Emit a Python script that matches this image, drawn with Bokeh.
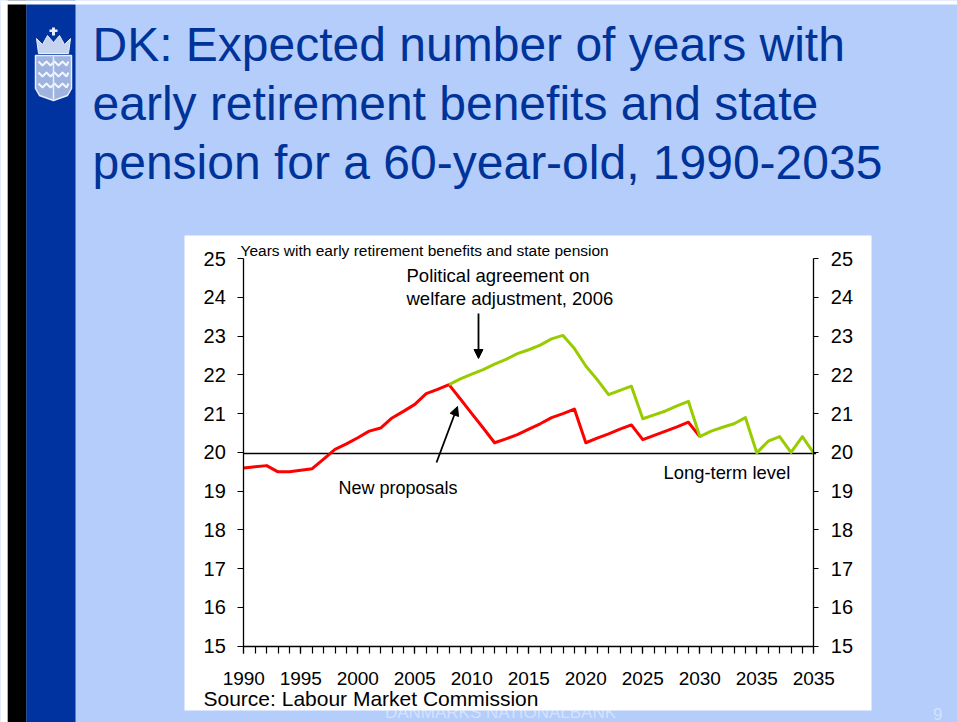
from bokeh.plotting import figure
from bokeh.models import Range1d, LinearAxis, FixedTicker, Arrow, NormalHead
from bokeh.core.properties import value
from bokeh.embed import file_html
from bokeh.resources import INLINE

# ---------------- data ----------------
years_red = list(range(1990, 2031))
red_values = [19.60, 19.63, 19.66, 19.50, 19.50, 19.54, 19.58, 19.83, 20.08, 20.22,
              20.38, 20.55, 20.63, 20.89, 21.06, 21.24, 21.52, 21.63, 21.75, 21.38,
              21.00, 20.63, 20.25, 20.35, 20.46, 20.60, 20.74, 20.90, 21.00, 21.12,
              20.25, 20.37, 20.48, 20.60, 20.71, 20.33, 20.44, 20.55, 20.66, 20.78,
              20.41]
years_green = list(range(2008, 2041))
green_values = [21.75, 21.90, 22.02, 22.14, 22.28, 22.40, 22.55, 22.65, 22.77, 22.93,
                23.02, 22.68, 22.23, 21.88, 21.49, 21.60, 21.71, 20.87, 20.97, 21.07,
                21.20, 21.32, 20.41, 20.55, 20.65, 20.74, 20.90, 19.99, 20.29, 20.41,
                20.00, 20.41, 19.98]
long_term_level = 19.97
y_ticks = list(range(15, 26))
x_ticks = [1990, 1995, 2000, 2005, 2010, 2015, 2020, 2025, 2030, 2035, 2040]
x_tick_labels = ["1990", "1995", "2000", "2005", "2010", "2015", "2020", "2025",
                 "2030", "2035", "2035"]
x_minor_ticks = list(range(1990, 2041))

title_lines = ["DK: Expected number of years with",
               "early retirement benefits and state",
               "pension for a 60-year-old, 1990-2035"]

# ---------------- page geometry (page px -> chart data) ----------------
W, H = 957, 722
PX_PER_YEAR = 11.4
PX_PER_UNIT = 38.75
def X(px):
    return 1990 + (px - 243.3) / PX_PER_YEAR
def Y(py):
    return 15 + (645.7 - py) / PX_PER_UNIT

FONT = value("Liberation Sans")
SLIDE_BG = "#b4cdfa"
DARK_BLUE = "#0033a0"
TITLE_BLUE = "#003399"

p = figure(width=W, height=H,
           x_range=Range1d(X(0), X(W)), y_range=Range1d(Y(H), Y(0)),
           x_axis_location=None, y_axis_location=None,
           toolbar_location=None, output_backend="svg", min_border=0,
           background_fill_color=SLIDE_BG, border_fill_color=SLIDE_BG,
           outline_line_color=None)
p.grid.visible = False

# footer (partly hidden beneath the chart box, as in the slide)
p.text(x=[X(500)], y=[Y(712)], text=["DANMARKS NATIONALBANK"], text_font=FONT,
       text_font_size="17px", text_color="#d4e2ff", text_align="center",
       text_baseline="alphabetic")
p.text(x=[X(942)], y=[Y(713)], text=["9"], text_font=FONT,
       text_font_size="17px", text_color="#d4e2ff", text_align="right",
       text_baseline="alphabetic")

# left bands
p.quad(left=[X(7)], right=[X(26)], top=[Y(0)], bottom=[Y(H)],
       fill_color="black", line_color=None)
p.quad(left=[X(26)], right=[X(75)], top=[Y(0)], bottom=[Y(H)],
       fill_color=DARK_BLUE, line_color=None)
# thin white page edge (top / left) as in the reference
p.quad(left=[X(0)], right=[X(W)], top=[Y(0)], bottom=[Y(4)],
       fill_color="white", line_color=None)
p.quad(left=[X(0)], right=[X(7)], top=[Y(0)], bottom=[Y(H)],
       fill_color="white", line_color=None)

# logo (crown + shield)
crown = [(38, 53), (68, 53), (70, 38), (64, 44), (59, 35), (53, 42), (47, 35), (42, 44), (36, 38)]
p.patch(x=[X(a) for a, b in crown], y=[Y(b) for a, b in crown],
        fill_color="#c6d3ee", line_color="#e6eeff", line_width=1)
p.quad(left=[X(51.5)], right=[X(54.5)], top=[Y(27)], bottom=[Y(35)],
       fill_color="#e6eeff", line_color=None)
p.quad(left=[X(49)], right=[X(57)], top=[Y(29)], bottom=[Y(31.5)],
       fill_color="#e6eeff", line_color=None)
shield = [(35, 55), (71, 55), (71, 88), (67, 95), (53, 100), (39, 95), (35, 88)]
p.patch(x=[X(a) for a, b in shield], y=[Y(b) for a, b in shield],
        fill_color="#9fb3df", line_color="#e6eeff", line_width=1.5)
for row in (63, 74, 85):
    zz_x = [38, 42, 46, 50, 54, 58, 62, 66, 68]
    zz_y = [row + (2 if i % 2 else -2) for i in range(len(zz_x))]
    p.line(x=[X(a) for a in zz_x], y=[Y(b) for b in zz_y], line_color="#f0f5ff", line_width=2)
p.line(x=[X(53), X(53)], y=[Y(56), Y(99)], line_color="#e6eeff", line_width=1.5)

# title
p.text(x=[X(92)] * 3, y=[Y(44), Y(103), Y(162)], text=title_lines, text_font=FONT,
       text_font_size="48px", text_color=TITLE_BLUE, text_align="left",
       text_baseline="alphabetic")

# white chart box
p.quad(left=[X(184)], right=[X(871)], top=[Y(235)], bottom=[Y(710)],
       fill_color="white", line_color=None)

# long-term level line
p.segment(x0=[x_ticks[0]], x1=[x_ticks[-1] + 0.2], y0=[long_term_level], y1=[long_term_level],
          line_color="black", line_width=1.5)

# series
p.line(years_red, red_values, line_color="#ff0000", line_width=3, line_join="round")
p.line(years_green, green_values, line_color="#99cc00", line_width=3, line_join="round")

# axes (fixed inside the page frame)
def style_axis(ax, size):
    ax.major_label_text_font = "Liberation Sans"
    ax.major_label_text_font_size = size
    ax.major_label_text_color = "black"
    ax.axis_line_color = "black"
    ax.axis_line_width = 1.3
    ax.major_tick_line_color = "black"
    ax.major_tick_line_width = 1.2
    ax.minor_tick_line_color = "black"
    ax.minor_tick_line_width = 1.2
    ax.major_tick_in = 0
    ax.minor_tick_in = 0

left = LinearAxis(fixed_location=x_ticks[0], bounds=(y_ticks[0], y_ticks[-1]),
                  ticker=FixedTicker(ticks=y_ticks, minor_ticks=[]),
                  major_tick_out=6, minor_tick_out=0, major_label_standoff=12)
style_axis(left, "20px")
p.add_layout(left, "left")

right = LinearAxis(fixed_location=x_ticks[-1], bounds=(y_ticks[0], y_ticks[-1]),
                   ticker=FixedTicker(ticks=y_ticks, minor_ticks=[]),
                   major_tick_out=5, minor_tick_out=0, major_label_standoff=12)
style_axis(right, "20px")
p.add_layout(right, "right")

bottom = LinearAxis(fixed_location=y_ticks[0], bounds=(x_ticks[0], x_ticks[-1]),
                    ticker=FixedTicker(ticks=x_ticks, minor_ticks=x_minor_ticks),
                    major_tick_out=7, minor_tick_out=7, major_label_standoff=19,
                    major_label_overrides={t: s for t, s in zip(x_ticks, x_tick_labels)})
style_axis(bottom, "19px")
p.add_layout(bottom, "below")

# chart texts
p.text(x=[X(240)], y=[Y(249.5)], text=["Years with early retirement benefits and state pension"],
       text_font=FONT, text_font_size="15.5px", text_color="black", text_baseline="alphabetic")
p.text(x=[X(406)] * 2, y=[Y(274.5)], text=["Political agreement on"],
       text_font=FONT, text_font_size="18.5px", text_color="black", text_baseline="alphabetic")
p.text(x=[X(406)], y=[Y(297.5)], text=["welfare adjustment, 2006"],
       text_font=FONT, text_font_size="18.5px", text_color="black", text_baseline="alphabetic")
p.text(x=[X(338)], y=[Y(487)], text=["New proposals"], text_font=FONT,
       text_font_size="18px", text_color="black", text_baseline="alphabetic")
p.text(x=[X(663)], y=[Y(471.5)], text=["Long-term level"], text_font=FONT,
       text_font_size="18.4px", text_color="black", text_baseline="alphabetic")
p.text(x=[X(203)], y=[Y(698)], text=["Source: Labour Market Commission"], text_font=FONT,
       text_font_size="21px", text_color="black", text_baseline="alphabetic")

# arrows
p.add_layout(Arrow(end=NormalHead(size=9, line_color="black", fill_color="black"),
                   x_start=X(478), y_start=Y(313), x_end=X(478), y_end=Y(358),
                   line_color="black", line_width=1.8))
p.add_layout(Arrow(end=NormalHead(size=9, line_color="black", fill_color="black"),
                   x_start=X(436), y_start=Y(462), x_end=X(457), y_end=Y(406),
                   line_color="black", line_width=1.8))

open("out.html", "w").write(file_html(p, INLINE))
